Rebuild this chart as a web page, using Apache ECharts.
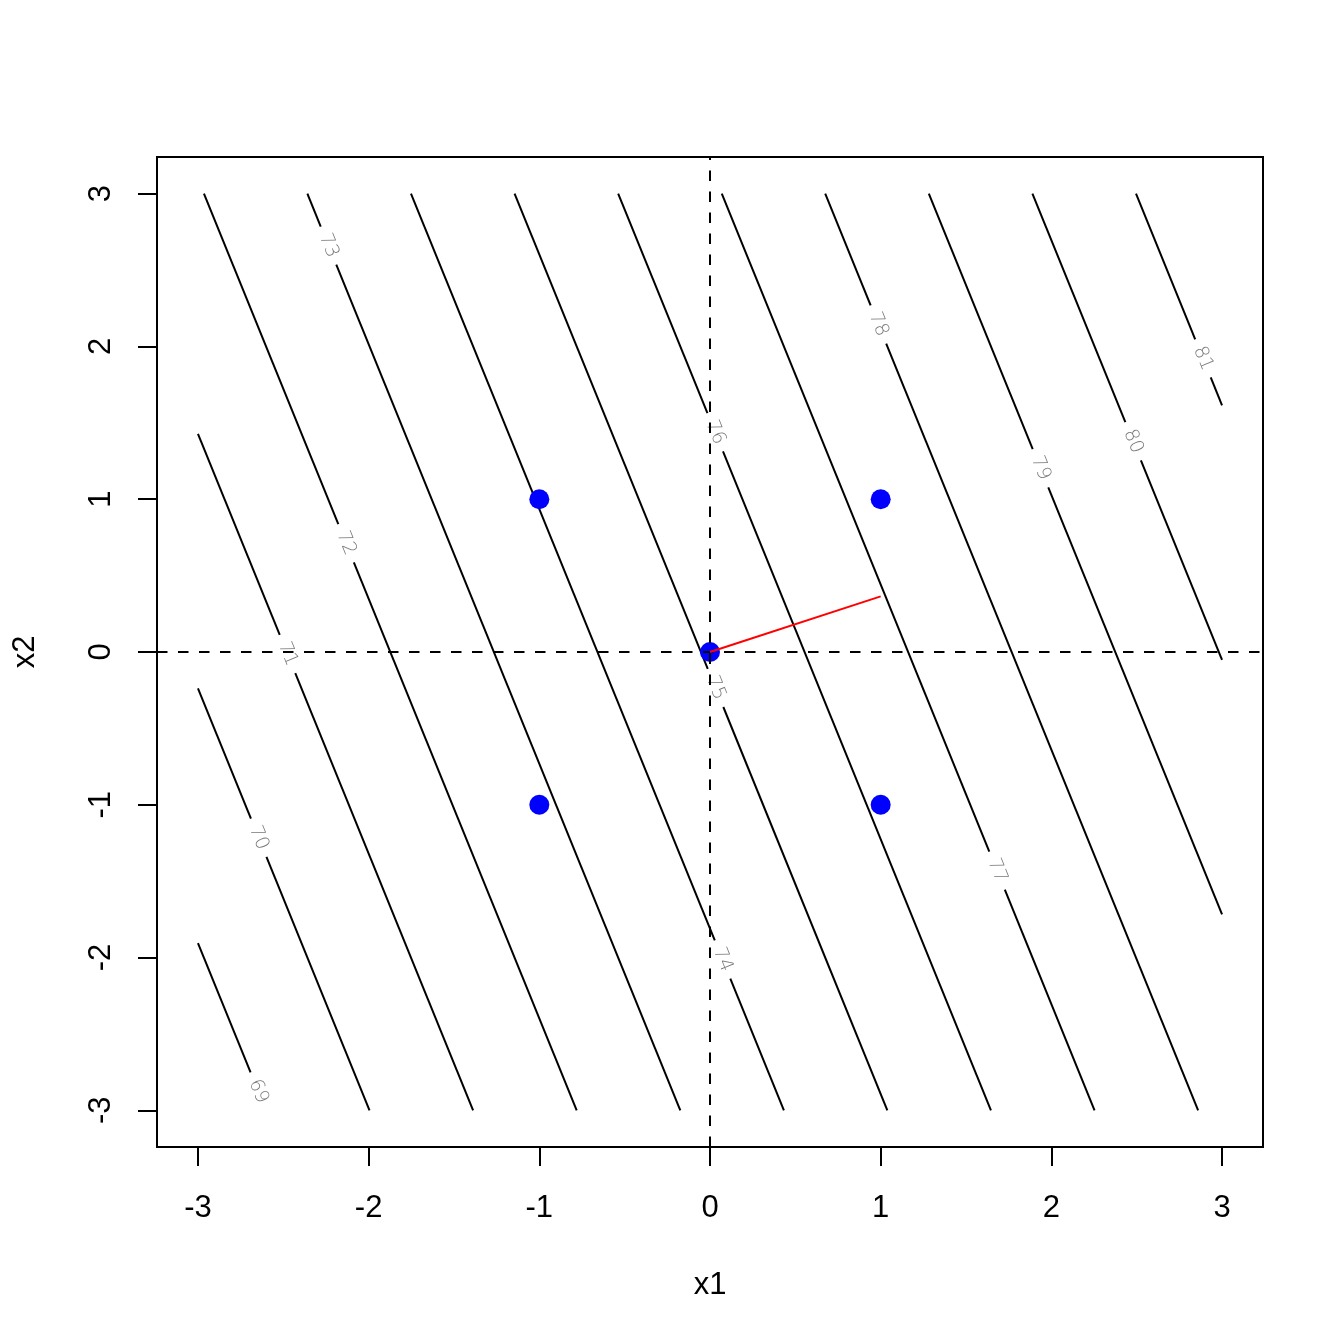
<!DOCTYPE html>
<html>
<head>
<meta charset="utf-8">
<script src="https://cdn.jsdelivr.net/npm/echarts@6/dist/echarts.min.js"></script>
<style>html,body{margin:0;padding:0;background:#fff}#c{width:1344px;height:1344px}</style>
</head>
<body>
<div id="c"></div>
<script>
// Contour levels and their line endpoints (x1, x2)
const levels      = [69, 70, 71, 72, 73, 74, 75, 76, 77, 78, 79, 80, 81];
const startX1     = [-3, -3, -3, -2.965, -2.359, -1.752, -1.145, -0.538, 0.069, 0.675, 1.282, 1.889, 2.496];
const startX2     = [-1.905, -0.238, 1.428, 3, 3, 3, 3, 3, 3, 3, 3, 3, 3];
const endX1       = [-2.601, -1.995, -1.388, -0.781, -0.174, 0.433, 1.039, 1.646, 2.253, 2.860, 3, 3, 3];
const endX2       = [-3, -3, -3, -3, -3, -3, -3, -3, -3, -3, -1.718, -0.052, 1.615];
// x2 position of each contour label along its line
const labelX2     = [-2.876, -1.216, -0.013, 0.712, 2.660, -2.013, -0.235, 1.438, -1.431, 2.144, 1.203, 1.379, 1.922];
// design points
const pointsX1    = [-1, 1, 0, -1, 1];
const pointsX2    = [1, 1, 0, -1, -1];
// steepest-ascent direction segment
const arrowX1     = [0, 1];
const arrowX2     = [0, 0.364];
const tickValues  = [-3, -2, -1, 0, 1, 2, 3];

const AX_MIN = -3.24, AX_MAX = 3.24;
const GAP = 0.125; // half label gap, in x2 units

function x1At(i, x2) {
  return startX1[i] + (x2 - startX2[i]) * (endX1[i] - startX1[i]) / (endX2[i] - startX2[i]);
}
const segs = [];
const labels = [];
levels.forEach((lv, i) => {
  const hi = labelX2[i] + GAP, lo = labelX2[i] - GAP;
  if (hi < startX2[i]) segs.push({coords: [[startX1[i], startX2[i]], [x1At(i, hi), hi]]});
  if (lo > endX2[i]) segs.push({coords: [[x1At(i, lo), lo], [endX1[i], endX2[i]]]});
  labels.push({value: [x1At(i, labelX2[i]), labelX2[i]], name: String(lv)});
});

const FONT = "'Liberation Sans', Arial, sans-serif";
const chart = echarts.init(document.getElementById('c'), null, {renderer: 'canvas'});
chart.setOption({
  animation: false,
  backgroundColor: '#fff',
  grid: {left: 157, top: 157, width: 1106, height: 990, show: true, borderColor: '#000', borderWidth: 2, backgroundColor: 'transparent'},
  xAxis: {
    type: 'value', min: AX_MIN, max: AX_MAX,
    axisLine: {show: false, onZero: false},
    splitLine: {show: false},
    axisTick: {show: true, customValues: tickValues, length: 19, lineStyle: {color: '#000', width: 2}},
    axisLabel: {customValues: tickValues, fontSize: 31, color: '#000', fontFamily: FONT, margin: 46},
    name: 'x1', nameLocation: 'middle', nameGap: 123,
    nameTextStyle: {fontSize: 31, color: '#000', fontFamily: FONT}
  },
  yAxis: {
    type: 'value', min: AX_MIN, max: AX_MAX,
    axisLine: {show: false, onZero: false},
    splitLine: {show: false},
    axisTick: {show: true, customValues: tickValues, length: 19, lineStyle: {color: '#000', width: 2}},
    axisLabel: {customValues: tickValues, fontSize: 31, color: '#000', fontFamily: FONT, margin: 40, rotate: 90},
    name: 'x2', nameLocation: 'middle', nameGap: 116,
    nameTextStyle: {fontSize: 31, color: '#000', fontFamily: FONT}
  },
  series: [
    {
      type: 'lines', coordinateSystem: 'cartesian2d', z: 2,
      lineStyle: {color: '#000', width: 2, opacity: 1},
      data: segs
    },
    {
      type: 'scatter', z: 3, symbolSize: 1,
      itemStyle: {color: 'rgba(0,0,0,0)'},
      label: {
        show: true, position: 'inside', rotate: -68,
        formatter: p => p.name,
        fontSize: 19, color: '#555', fontFamily: "'DejaVu Sans', sans-serif", fontWeight: 'lighter'
      },
      data: labels
    },
    {
      type: 'scatter', z: 4, symbolSize: 20,
      itemStyle: {color: '#0000FF', opacity: 1},
      data: pointsX1.map((x, i) => [x, pointsX2[i]])
    },
    {
      type: 'lines', coordinateSystem: 'cartesian2d', z: 5,
      lineStyle: {color: '#000', width: 2, type: [10.5, 10.5], opacity: 1},
      data: [
        {coords: [[AX_MIN, 0], [AX_MAX, 0]]},
        {coords: [[0, AX_MIN], [0, AX_MAX]]}
      ]
    },
    {
      type: 'lines', coordinateSystem: 'cartesian2d', z: 6,
      lineStyle: {color: '#FF0000', width: 2, opacity: 1},
      data: [{coords: arrowX1.map((x, i) => [x, arrowX2[i]])}]
    }
  ]
});
</script>
</body>
</html>
